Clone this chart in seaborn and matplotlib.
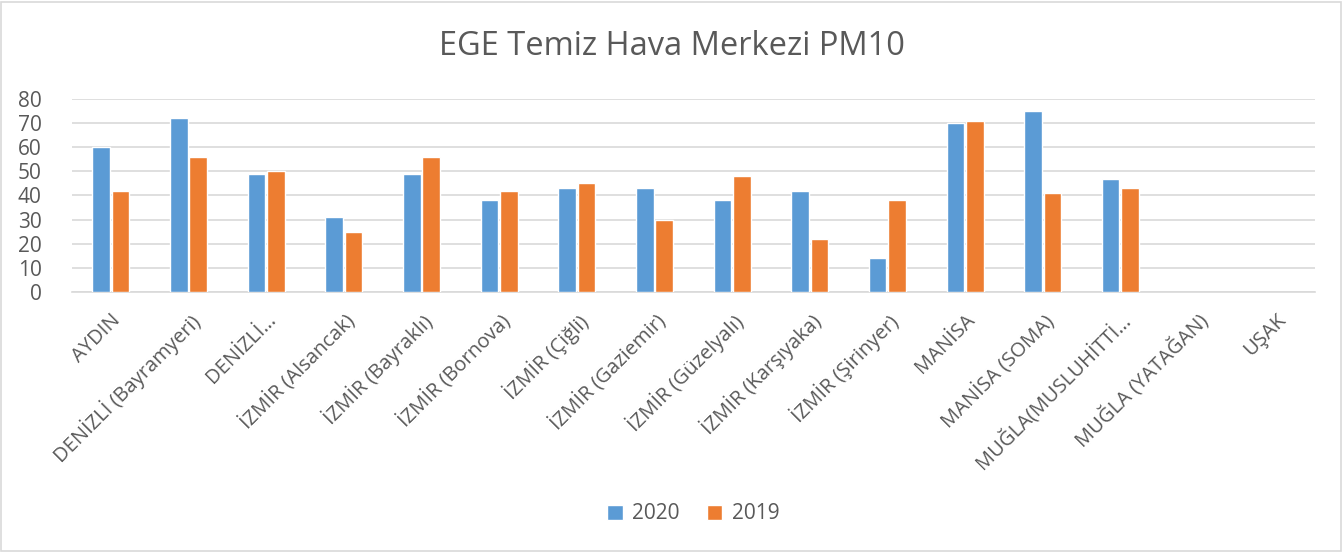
import numpy as np
import pandas as pd
import matplotlib
matplotlib.use("Agg")
import matplotlib.pyplot as plt
import seaborn as sns
from matplotlib.patches import Rectangle

stations = ["AYDIN", "DENİZLİ (Bayramyeri)", "DENİZLİ…", "İZMİR (Alsancak)",
            "İZMİR (Bayraklı)", "İZMİR (Bornova)", "İZMİR (Çiğli)", "İZMİR (Gaziemir)",
            "İZMİR (Güzelyalı)", "İZMİR (Karşıyaka)", "İZMİR (Şirinyer)", "MANİSA",
            "MANİSA (SOMA)", "MUĞLA(MUSLUHİTTİ…", "MUĞLA (YATAĞAN)", "UŞAK"]
pm10_2020 = [60, 72, 49, 31, 49, 38, 43, 43, 38, 42, 14, 70, 75, 47, np.nan, np.nan]
pm10_2019 = [42, 56, 50, 25, 56, 42, 45, 30, 48, 22, 38, 71, 41, 43, np.nan, np.nan]
years = ["2020", "2019"]
colors = ["#5B9BD5", "#ED7D31"]

df = pd.DataFrame({
    "station": stations * 2,
    "year": [years[0]] * len(stations) + [years[1]] * len(stations),
    "value": pm10_2020 + pm10_2019,
})

sns.set_theme(style="white")
plt.rcParams['font.family'] = ['Open Sans', 'DejaVu Sans']
text_col = "#595959"

fig = plt.figure(figsize=(13.44, 5.52), dpi=100)
ax = fig.add_axes([0.0536, 0.471, 0.9245, 0.3497])

sns.barplot(data=df, x="station", y="value", hue="year", hue_order=years,
            palette=colors, width=0.5, gap=0.1, order=stations, ax=ax,
            saturation=1, errorbar=None, zorder=3)

ax.set_ylim(0, 80)
ax.set_yticks(range(0, 81, 10))
ax.set_xlim(-0.5, len(stations) - 0.5)
ax.yaxis.grid(True, color="#D9D9D9", linewidth=1.2, zorder=0)
ax.set_axisbelow(True)
for s in ["top", "right", "left"]:
    ax.spines[s].set_visible(False)
ax.spines["bottom"].set_color("#D9D9D9")
ax.spines["bottom"].set_linewidth(1.2)
ax.set_xlabel("")
ax.set_ylabel("")
ax.tick_params(axis="y", length=0, pad=22, labelsize=15, labelcolor=text_col)
ax.tick_params(axis="x", length=0, pad=13, labelsize=14.5, labelcolor=text_col)
plt.setp(ax.get_xticklabels(), rotation=45, ha="right", rotation_mode="anchor")

fig.suptitle("EGE Temiz Hava Merkezi PM10", x=0.5, y=0.945, fontsize=23.5, color=text_col)

leg = ax.legend(loc="center", bbox_to_anchor=(0.5, -1.15), ncol=2, frameon=False,
                fontsize=15, handlelength=0.75, handleheight=0.75, handletextpad=0.45,
                columnspacing=1.3)
for t in leg.get_texts():
    t.set_color(text_col)

fig.patches.append(Rectangle((0.001, 0.002), 0.997, 0.995, transform=fig.transFigure,
                             fill=False, edgecolor="#D9D9D9", linewidth=1.2))

fig.savefig("out.png", dpi=100, facecolor="white")
